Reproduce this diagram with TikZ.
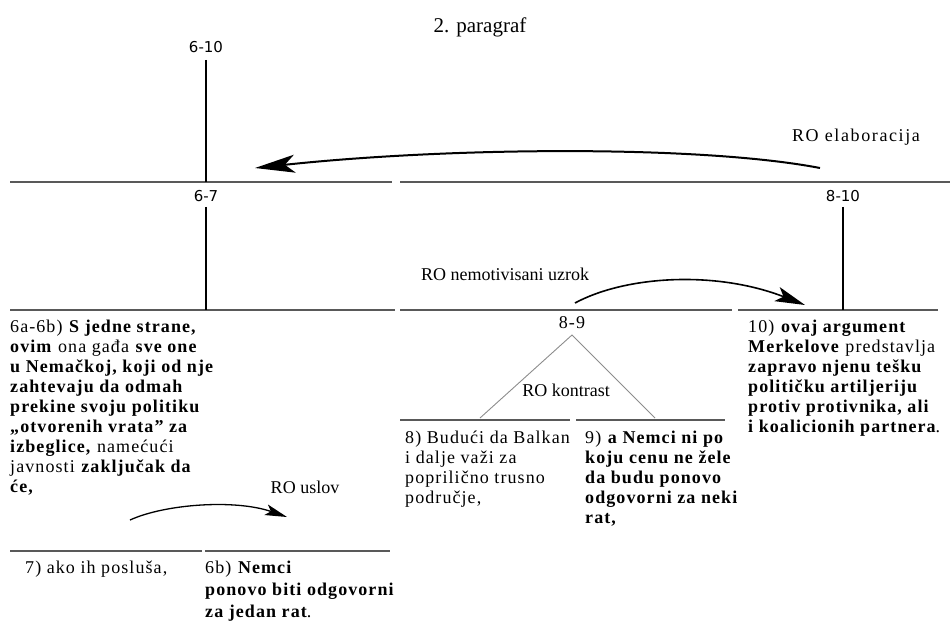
\documentclass[tikz,border=0pt]{standalone}
\usepackage{fontspec}
\setmainfont{Liberation Serif}[LetterSpace=6]
\newfontfamily\titlefont{Liberation Serif}
\newfontfamily\widefont{Liberation Serif}[LetterSpace=9]
\newfontfamily\labfont{DejaVu Sans}
\usetikzlibrary{arrows.meta}
\begin{document}
\begin{tikzpicture}[x=1pt,y=-1pt,
  hline/.style={line width=2pt, draw=black!65},
  vline/.style={line width=1.2pt},
  tline/.style={line width=0.9pt, draw=black!45},
  span/.style={font=\labfont\fontsize{15}{15}\selectfont, inner sep=0pt},
  txt/.style={font=\fontsize{18}{20}\selectfont, inner sep=0pt, anchor=base west},
  rel/.style={font=\titlefont\fontsize{18}{18}\selectfont, inner sep=0pt},
  bigarrow/.style={line width=2pt, -{Stealth[length=40pt,width=18pt,inset=10pt]}},
  midarrow/.style={line width=1.6pt, -{Stealth[length=30pt,width=15pt,inset=7pt]}},
  smallarrow/.style={line width=1.3pt, -{Stealth[length=22pt,width=11pt,inset=5pt]}}
]
\useasboundingbox (0,0) rectangle (950,627);
% title
\node[font=\titlefont\fontsize{21}{21}\selectfont, inner sep=0pt] (title) at (480,27) {2. paragraf};
% level 0
\node[span] (n610) at (206,47) {6-10};
% top line
\coordinate (a1) at (10,182); \coordinate (a2) at (392,182);
\coordinate (a3) at (400,182); \coordinate (a4) at (950,182);
\draw[hline] (a1) -- (a2);
\draw[hline] (a3) -- (a4);
\draw[vline] ([yshift=-7pt]n610.south) -- (n610 |- a1);
% level 1 labels
\node[span] (n67) at (206,196) {6-7};
\node[span] (n810) at (843,196) {8-10};
% level 2 lines
\coordinate (b1) at (10,310); \coordinate (b2) at (395,310);
\coordinate (b3) at (400,310); \coordinate (b4) at (732,310);
\coordinate (b5) at (738,310); \coordinate (b6) at (938,310);
\draw[hline] (b1) -- (b2);
\draw[hline] (b3) -- (b4);
\draw[hline] (b5) -- (b6);
\draw[vline] ([yshift=-5pt]n67.south) -- (n67 |- b1);
\draw[vline] ([yshift=-5pt]n810.south) -- (n810 |- b1);
% elaboration arrow
\coordinate (e1) at (820,168); \coordinate (e2) at (255,168);
\draw[bigarrow] (e1) .. controls (700,145) and (450,147) .. (e2);
\node[rel, font=\widefont\fontsize{18}{18}\selectfont] (relab) at (856,137) {RO elaboracija};
% nemotivisani uzrok
\coordinate (m1) at (575,303); \coordinate (m2) at (805,305);
\draw[midarrow] (m1) .. controls (625,276) and (715,270) .. (m2);
\node[rel] (relnm) at (505,274) {RO nemotivisani uzrok};
% 8-9 and triangle
\node[rel, font=\fontsize{18}{18}\selectfont] (n89) at (572,323) {8-9};
\coordinate (apex) at (572,335);
\coordinate (f1) at (480,418); \coordinate (f2) at (655,418);
\draw[tline] (f1) -- (apex) -- (f2);
\node[rel] (relk) at (566,390) {RO kontrast};
\coordinate (c1) at (400,420); \coordinate (c2) at (570,420);
\coordinate (c3) at (576,420); \coordinate (c4) at (725,420);
\draw[hline] (c1) -- (c2);
\draw[hline] (c3) -- (c4);
% uslov
\coordinate (u1) at (130,520); \coordinate (u2) at (287,517);
\draw[smallarrow] (u1) .. controls (165,504) and (235,499) .. (u2);
\node[rel] (relu) at (305,487) {RO uslov};
\coordinate (d1) at (10,551); \coordinate (d2) at (202,551);
\coordinate (d3) at (205,551); \coordinate (d4) at (390,551);
\draw[hline] (d1) -- (d2);
\draw[hline] (d3) -- (d4);
% text blocks
\node[txt] (t6a) at (10,332) {\parbox[t]{320pt}{6a-6b) \textbf{S jedne strane,}\\
\textbf{ovim} ona gađa \textbf{sve one}\\
\textbf{u Nemačkoj, koji od nje}\\
\textbf{zahtevaju da odmah}\\
\textbf{prekine svoju politiku}\\
\textbf{„otvorenih vrata” za}\\
\textbf{izbeglice,} namećući\\
javnosti \textbf{zaključak da}\\
\textbf{će,}}};
\node[txt] (t10) at (748,332) {\parbox[t]{320pt}{10) \textbf{ovaj argument}\\
\textbf{Merkelove} predstavlja\\
\textbf{zapravo njenu tešku}\\
\textbf{političku artiljeriju}\\
\textbf{protiv protivnika, ali}\\
\textbf{i koalicionih partnera}.}};
\node[txt] (t8) at (405,443) {\parbox[t]{320pt}{8) Budući da Balkan\\
i dalje važi za\\
poprilično trusno\\
područje,}};
\node[txt] (t9) at (585,443) {\parbox[t]{320pt}{9) \textbf{a Nemci ni po}\\
\textbf{koju cenu ne žele}\\
\textbf{da budu ponovo}\\
\textbf{odgovorni za neki}\\
\textbf{rat,}}};
\node[txt] (t7) at (25,573) {\parbox[t]{320pt}{7) ako ih posluša,}};
\node[txt, font=\fontsize{18}{22}\selectfont] (t6b) at (205,573) {\parbox[t]{320pt}{6b) \textbf{Nemci}\\
\textbf{ponovo biti odgovorni}\\
\textbf{za jedan rat}.}};
\end{tikzpicture}
\end{document}
